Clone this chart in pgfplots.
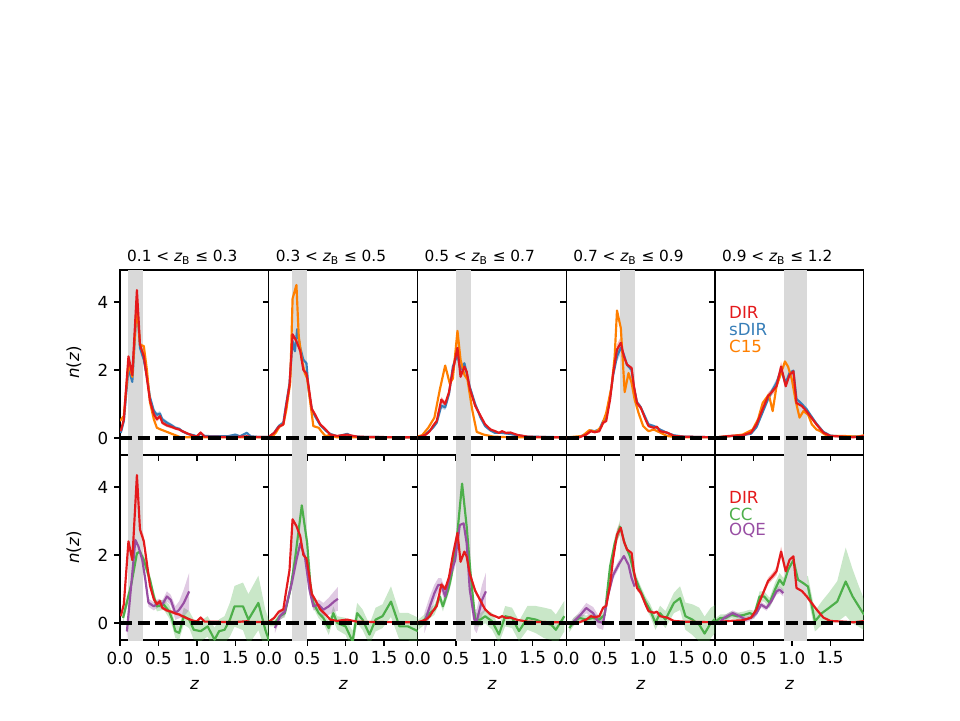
\documentclass[border=0pt]{standalone}
\usepackage{fontspec}
\setmainfont{DejaVu Sans}
\usepackage{pgfplots}
\pgfplotsset{compat=1.18}
\usepackage{pgfplotstable}
\usepgfplotslibrary{fillbetween}

\definecolor{cDIR}{HTML}{E41A1C}
\definecolor{cSDIR}{HTML}{377EB8}
\definecolor{cCC}{HTML}{4DAF4A}
\definecolor{cOQE}{HTML}{984EA3}
\definecolor{cC15}{HTML}{FF7F00}
\definecolor{binGray}{RGB}{217,217,217}

% ---------------- DIR ----------------
\pgfplotstableread{
z n e
0.01 0.20 0.05
0.05 0.55 0.08
0.11 2.40 0.25
0.16 1.85 0.20
0.22 4.35 0.45
0.26 2.75 0.25
0.31 2.40 0.15
0.35 1.75 0.12
0.39 1.10 0.10
0.44 0.70 0.08
0.48 0.55 0.07
0.52 0.64 0.07
0.55 0.45 0.06
0.61 0.37 0.05
0.68 0.32 0.05
0.72 0.28 0.04
0.77 0.25 0.04
0.81 0.20 0.04
0.88 0.13 0.03
0.96 0.06 0.03
1.00 0.05 0.02
1.05 0.16 0.04
1.10 0.04 0.02
1.20 0.04 0.02
1.35 0.03 0.02
1.50 0.03 0.02
1.65 0.05 0.02
1.70 0.03 0.02
1.95 0.03 0.02
}\dirA
\pgfplotstableread{
z n e
0.01 0.05 0.02
0.07 0.15 0.03
0.13 0.33 0.05
0.19 0.40 0.05
0.22 0.85 0.08
0.27 1.55 0.12
0.31 3.05 0.25
0.36 2.85 0.20
0.41 2.55 0.18
0.45 2.00 0.15
0.49 1.90 0.12
0.52 1.50 0.10
0.56 0.85 0.08
0.60 0.70 0.07
0.67 0.40 0.05
0.74 0.25 0.04
0.80 0.10 0.03
0.89 0.06 0.02
0.95 0.08 0.02
1.02 0.10 0.03
1.08 0.07 0.02
1.15 0.04 0.02
1.30 0.03 0.02
1.95 0.02 0.02
}\dirB
\pgfplotstableread{
z n e
0.01 0.03 0.02
0.06 0.06 0.02
0.11 0.10 0.02
0.16 0.20 0.03
0.20 0.35 0.04
0.25 0.50 0.05
0.31 1.13 0.08
0.36 1.00 0.08
0.41 1.35 0.10
0.46 2.00 0.12
0.52 2.65 0.18
0.56 1.80 0.15
0.61 2.10 0.15
0.64 1.95 0.15
0.68 1.45 0.10
0.75 0.95 0.08
0.82 0.65 0.06
0.88 0.40 0.05
0.95 0.25 0.04
1.01 0.20 0.03
1.06 0.15 0.03
1.10 0.20 0.03
1.15 0.15 0.03
1.21 0.16 0.03
1.30 0.09 0.02
1.43 0.04 0.02
1.55 0.03 0.02
1.95 0.02 0.02
}\dirC
\pgfplotstableread{
z n e
0.02 0.01 0.01
0.17 0.02 0.01
0.26 0.10 0.02
0.32 0.20 0.03
0.37 0.17 0.03
0.43 0.20 0.03
0.48 0.45 0.05
0.52 0.50 0.05
0.57 1.13 0.08
0.61 1.90 0.12
0.66 2.60 0.15
0.71 2.80 0.18
0.75 2.40 0.15
0.79 2.16 0.14
0.85 2.06 0.14
0.88 1.52 0.10
0.92 1.03 0.08
0.97 0.89 0.07
1.03 0.55 0.05
1.07 0.35 0.04
1.14 0.30 0.04
1.18 0.33 0.04
1.22 0.20 0.03
1.31 0.16 0.03
1.40 0.06 0.02
1.53 0.04 0.02
1.95 0.02 0.02
}\dirD
\pgfplotstableread{
z n e
0.02 0.02 0.01
0.18 0.06 0.02
0.36 0.08 0.02
0.47 0.16 0.03
0.54 0.40 0.05
0.60 0.74 0.07
0.69 1.23 0.10
0.75 1.38 0.10
0.80 1.52 0.12
0.86 2.10 0.15
0.92 1.52 0.12
0.97 1.86 0.14
1.02 1.96 0.15
1.06 1.03 0.10
1.13 0.94 0.08
1.19 0.79 0.07
1.24 0.64 0.06
1.32 0.40 0.05
1.41 0.16 0.03
1.50 0.06 0.02
1.68 0.04 0.02
1.80 0.02 0.02
1.95 0.06 0.02
}\dirE

% ---------------- sDIR ----------------
\pgfplotstableread{
z n e
0.01 0.15 0.05
0.05 0.50 0.08
0.11 2.05 0.20
0.16 1.65 0.18
0.22 4.00 0.35
0.26 2.65 0.20
0.31 2.30 0.15
0.35 1.80 0.12
0.39 1.20 0.10
0.44 0.80 0.08
0.48 0.68 0.07
0.52 0.72 0.07
0.55 0.55 0.06
0.61 0.45 0.06
0.68 0.36 0.05
0.72 0.30 0.05
0.77 0.27 0.04
0.81 0.20 0.04
0.88 0.12 0.03
0.96 0.08 0.03
1.00 0.05 0.02
1.05 0.13 0.04
1.10 0.06 0.02
1.25 0.05 0.02
1.40 0.05 0.02
1.50 0.10 0.03
1.56 0.05 0.02
1.65 0.15 0.04
1.70 0.05 0.02
1.80 0.03 0.02
1.95 0.03 0.02
}\sdirA
\pgfplotstableread{
z n e
0.01 0.05 0.02
0.07 0.15 0.03
0.13 0.35 0.05
0.19 0.45 0.05
0.22 0.90 0.08
0.27 1.60 0.12
0.31 2.85 0.20
0.34 2.55 0.18
0.37 3.20 0.22
0.41 2.65 0.18
0.45 2.30 0.15
0.49 2.20 0.12
0.52 1.40 0.10
0.56 0.85 0.08
0.60 0.65 0.07
0.67 0.38 0.05
0.74 0.22 0.04
0.80 0.12 0.03
0.89 0.05 0.02
0.95 0.08 0.02
1.02 0.12 0.03
1.08 0.06 0.02
1.20 0.03 0.02
1.95 0.02 0.02
}\sdirB
\pgfplotstableread{
z n e
0.01 0.03 0.02
0.11 0.12 0.02
0.16 0.22 0.03
0.20 0.30 0.04
0.25 0.45 0.05
0.31 0.95 0.08
0.36 0.90 0.08
0.41 1.30 0.10
0.46 2.10 0.12
0.52 2.45 0.18
0.56 2.00 0.15
0.61 2.20 0.15
0.64 1.90 0.15
0.68 1.50 0.10
0.75 1.00 0.08
0.82 0.60 0.06
0.88 0.35 0.05
0.95 0.22 0.04
1.01 0.15 0.03
1.10 0.15 0.03
1.20 0.12 0.03
1.30 0.08 0.02
1.43 0.04 0.02
1.95 0.02 0.02
}\sdirC
\pgfplotstableread{
z n e
0.02 0.01 0.01
0.17 0.03 0.01
0.26 0.12 0.02
0.32 0.22 0.03
0.37 0.20 0.03
0.43 0.25 0.03
0.48 0.50 0.05
0.52 0.60 0.05
0.57 1.20 0.08
0.61 1.85 0.12
0.66 2.40 0.15
0.71 2.65 0.18
0.75 2.45 0.15
0.79 2.15 0.14
0.85 2.00 0.14
0.88 1.50 0.10
0.92 1.05 0.08
0.97 0.90 0.07
1.03 0.60 0.05
1.07 0.40 0.04
1.14 0.35 0.04
1.18 0.30 0.04
1.22 0.25 0.03
1.31 0.15 0.03
1.40 0.08 0.02
1.53 0.04 0.02
1.95 0.02 0.02
}\sdirD
\pgfplotstableread{
z n e
0.02 0.02 0.01
0.18 0.05 0.02
0.36 0.08 0.02
0.47 0.13 0.03
0.54 0.32 0.04
0.60 0.65 0.06
0.69 1.15 0.10
0.75 1.42 0.10
0.80 1.62 0.12
0.86 2.00 0.14
0.92 1.62 0.12
0.97 1.92 0.14
1.02 1.98 0.14
1.06 1.15 0.10
1.13 1.00 0.08
1.19 0.85 0.07
1.24 0.68 0.06
1.32 0.42 0.05
1.41 0.18 0.03
1.50 0.07 0.02
1.68 0.04 0.02
1.95 0.05 0.02
}\sdirE

% ---------------- C15 ----------------
\pgfplotstableread{
z n
0.00 0.50
0.05 0.65
0.11 2.20
0.16 1.80
0.22 3.95
0.26 2.75
0.31 2.70
0.35 2.00
0.39 1.05
0.44 0.55
0.48 0.30
0.53 0.25
0.61 0.18
0.70 0.10
0.79 0.02
1.95 0.02
}\cfA
\pgfplotstableread{
z n
0.01 0.01
0.05 0.05
0.09 0.15
0.145 0.35
0.19 0.40
0.23 0.85
0.28 1.65
0.31 4.10
0.36 4.50
0.39 3.00
0.43 2.30
0.47 1.90
0.50 1.75
0.54 1.05
0.58 0.35
0.65 0.30
0.69 0.18
0.74 0.05
0.80 0.10
0.88 0.02
1.95 0.02
}\cfB
\pgfplotstableread{
z n
0.01 0.05
0.06 0.08
0.14 0.30
0.22 0.60
0.29 1.42
0.36 2.13
0.42 1.60
0.46 1.75
0.52 3.15
0.56 2.30
0.61 1.86
0.65 1.72
0.71 0.85
0.77 0.18
0.86 0.10
0.99 0.04
1.20 0.02
1.95 0.02
}\cfC
\pgfplotstableread{
z n
0.02 0.02
0.21 0.06
0.30 0.23
0.39 0.18
0.46 0.35
0.52 0.74
0.59 1.52
0.63 2.40
0.66 3.75
0.71 3.23
0.76 1.35
0.81 1.91
0.85 1.62
0.89 1.13
0.94 0.74
1.00 0.35
1.07 0.20
1.14 0.25
1.22 0.16
1.31 0.06
1.44 0.02
1.95 0.02
}\cfD
\pgfplotstableread{
z n
0.02 0.02
0.22 0.06
0.36 0.10
0.49 0.25
0.56 0.55
0.62 1.03
0.70 1.28
0.75 0.79
0.80 1.52
0.86 1.91
0.91 2.25
0.95 2.10
1.00 1.72
1.05 1.08
1.10 0.60
1.15 0.79
1.21 0.69
1.26 0.40
1.32 0.25
1.37 0.20
1.43 0.10
1.50 0.06
1.67 0.06
1.85 0.04
1.94 0.08
}\cfE

% ---------------- CC ----------------
\pgfplotstableread{
z n e
0.04 0.15 0.15
0.15 1.17 0.20
0.22 2.05 0.15
0.26 2.10 0.15
0.31 1.85 0.15
0.39 1.27 0.15
0.44 0.78 0.15
0.48 0.49 0.15
0.57 0.54 0.15
0.64 0.34 0.20
0.68 0.10 0.20
0.72 -0.24 0.20
0.77 -0.29 0.20
0.83 0.20 0.25
0.90 0.10 0.25
0.96 -0.20 0.30
1.05 -0.24 0.30
1.14 -0.10 0.30
1.23 -0.49 0.35
1.29 -0.24 0.35
1.36 -0.20 0.40
1.43 0.10 0.50
1.49 0.49 0.60
1.60 0.49 0.70
1.67 0.10 0.75
1.80 0.59 0.80
1.89 -0.20 0.60
1.95 -0.60 0.60
}\ccA
\pgfplotstableread{
z n e
0.01 0.00 0.10
0.08 0.00 0.10
0.145 0.20 0.10
0.21 0.29 0.12
0.28 0.98 0.15
0.34 1.85 0.20
0.43 3.46 0.25
0.50 2.34 0.20
0.54 1.17 0.15
0.58 0.59 0.15
0.65 0.29 0.15
0.71 0.15 0.15
0.78 -0.15 0.20
0.84 0.29 0.20
0.89 0.00 0.20
1.00 -0.10 0.25
1.09 -0.54 0.30
1.15 0.29 0.30
1.22 0.10 0.30
1.31 -0.34 0.30
1.39 0.10 0.35
1.48 0.20 0.35
1.59 0.63 0.45
1.70 -0.10 0.40
1.81 -0.10 0.40
1.94 -0.24 0.40
}\ccB
\pgfplotstableread{
z n e
0.01 -0.05 0.15
0.09 0.10 0.15
0.16 0.29 0.15
0.22 0.39 0.15
0.29 0.78 0.15
0.33 0.49 0.15
0.40 0.98 0.15
0.44 1.37 0.20
0.51 2.44 0.25
0.58 4.10 0.30
0.64 2.83 0.25
0.69 1.46 0.20
0.75 0.10 0.20
0.82 0.10 0.20
0.88 0.20 0.20
0.97 0.05 0.25
1.06 -0.34 0.25
1.14 0.20 0.30
1.23 0.15 0.30
1.32 -0.24 0.30
1.43 0.15 0.35
1.54 0.10 0.40
1.65 0.00 0.45
1.74 -0.05 0.45
1.80 -0.20 0.45
1.91 0.20 0.45
}\ccC
\pgfplotstableread{
z n e
0.04 -0.15 0.12
0.10 0.05 0.12
0.17 0.15 0.12
0.26 0.10 0.12
0.35 0.15 0.12
0.43 0.10 0.12
0.50 0.24 0.12
0.57 1.66 0.15
0.63 2.34 0.18
0.70 2.83 0.20
0.76 2.34 0.18
0.83 1.95 0.18
0.89 1.37 0.15
0.96 0.98 0.15
1.03 0.63 0.15
1.09 0.39 0.18
1.16 0.00 0.20
1.22 0.29 0.22
1.29 0.10 0.25
1.40 0.59 0.30
1.48 0.73 0.35
1.55 0.20 0.40
1.64 0.10 0.45
1.73 -0.05 0.50
1.80 -0.31 0.50
1.88 0.00 0.45
1.95 0.15 0.40
}\ccD
\pgfplotstableread{
z n e
0.01 0.05 0.10
0.07 0.15 0.10
0.14 0.15 0.10
0.21 0.24 0.10
0.29 0.20 0.10
0.38 0.24 0.10
0.45 0.29 0.10
0.51 0.24 0.12
0.58 0.78 0.15
0.64 0.78 0.15
0.71 0.59 0.15
0.78 0.98 0.20
0.84 1.27 0.20
0.89 1.12 0.20
0.95 1.56 0.25
1.02 1.85 0.30
1.08 1.27 0.30
1.15 1.17 0.30
1.21 1.07 0.30
1.30 0.05 0.30
1.39 0.29 0.35
1.48 0.44 0.45
1.59 0.63 0.60
1.70 1.22 1.00
1.79 0.78 0.80
1.87 0.49 0.60
1.94 0.24 0.45
}\ccE

% ---------------- OQE ----------------
\pgfplotstableread{
z n e
0.09 -0.25 0.30
0.20 2.44 0.20
0.24 2.25 0.20
0.29 1.85 0.15
0.33 1.27 0.15
0.37 0.60 0.12
0.44 0.49 0.12
0.50 0.59 0.12
0.55 0.54 0.12
0.61 0.78 0.15
0.66 0.68 0.15
0.72 0.29 0.20
0.77 0.39 0.25
0.83 0.59 0.40
0.90 0.93 0.55
}\oqA
\pgfplotstableread{
z n e
0.08 -0.15 0.15
0.145 0.20 0.12
0.21 0.34 0.12
0.30 1.17 0.15
0.36 1.85 0.15
0.41 2.34 0.18
0.47 1.95 0.18
0.53 0.98 0.15
0.58 0.49 0.12
0.65 0.54 0.15
0.71 0.39 0.20
0.78 0.49 0.25
0.85 0.63 0.30
0.90 0.71 0.35
}\oqB
\pgfplotstableread{
z n e
0.09 0.00 0.30
0.16 0.49 0.30
0.22 0.88 0.25
0.27 1.12 0.20
0.31 1.12 0.20
0.36 0.78 0.20
0.42 1.37 0.20
0.49 1.85 0.20
0.55 2.88 0.20
0.60 2.93 0.20
0.64 2.34 0.20
0.68 0.98 0.25
0.74 0.10 0.30
0.77 0.05 0.35
0.84 0.68 0.45
0.89 0.93 0.55
}\oqC
\pgfplotstableread{
z n e
0.08 0.00 0.10
0.17 0.20 0.12
0.26 0.44 0.15
0.35 0.29 0.18
0.41 0.05 0.20
0.48 0.00 0.20
0.54 0.78 0.12
0.61 1.41 0.12
0.68 1.71 0.12
0.75 1.97 0.12
0.81 1.71 0.12
0.85 1.32 0.12
0.89 1.07 0.12
}\oqD
\pgfplotstableread{
z n e
0.05 0.00 0.08
0.12 0.15 0.08
0.23 0.29 0.08
0.32 0.20 0.08
0.40 0.10 0.08
0.47 0.15 0.08
0.54 0.29 0.08
0.60 0.54 0.08
0.67 0.44 0.08
0.73 0.63 0.08
0.80 0.93 0.10
0.84 0.98 0.10
0.89 0.88 0.10
}\oqE

\pgfplotsset{
  panel/.style={
    scale only axis, width=89.25pt, height=111pt,
    xmin=0, xmax=1.935, ymin=-0.5, ymax=4.94,
    xtick={0,0.5,1,1.5}, ytick={0,2,4},
    tick align=outside, tick pos=left,
    major tick length=3.5pt,
    every tick/.style={black, line width=0.8pt},
    axis line style={line width=0.8pt},
    /pgf/number format/assume math mode=true,
    xticklabel style={/pgf/number format/fixed, /pgf/number format/fixed zerofill, /pgf/number format/precision=1},
    yticklabel style={/pgf/number format/fixed, /pgf/number format/precision=0},
    tick label style={font=\fontsize{10}{12}\selectfont},
    label style={font=\fontsize{10}{12}\selectfont},
    xlabel style={yshift=-3pt},
    ylabel style={yshift=3pt},
    title style={font=\fontsize{9.2}{11}\selectfont, at={(0.046,1)}, anchor=base west,
      inner sep=0pt, yshift=-1pt},
    no markers,
  },
  toprow/.style={panel, xticklabels={}},
  botrow/.style={panel, xlabel={\itshape z}},
  inner/.style={yticklabels={}},
}

% shaded photometric-redshift bin
\newcommand{\zbin}[2]{\addplot[fill=binGray, draw=none] coordinates {(#1,-1) (#2,-1) (#2,6) (#1,6)};}
% uncertainty band: table, unique name, colour
\newcommand{\zband}[3]{%
  \addplot[draw=none, name path=#2u] table[x=z, y expr=\thisrow{n}+\thisrow{e}] {#1};
  \addplot[draw=none, name path=#2l] table[x=z, y expr=\thisrow{n}-\thisrow{e}] {#1};
  \addplot[fill=#3, fill opacity=0.3, draw=none] fill between[of=#2u and #2l];
}
\newcommand{\zline}[2]{\addplot[#2, line width=1.3pt, line join=round] table[x=z, y=n] {#1};}
\newcommand{\zzero}{\addplot[black, line width=2pt, dash pattern=on 7.4pt off 3.2pt] coordinates {(0,0) (1.935,0)};}

\begin{document}
\begin{tikzpicture}
% page frame
\path (0,0) rectangle (576pt,432pt);

% ---------- top row: DIR, sDIR, C15 ----------
\begin{axis}[toprow, at={(72pt,159pt)}, anchor=south west,
  ylabel={{\itshape n}({\itshape z})},
  title={0.1 < {\itshape z}\textsubscript{B} ≤ 0.3}]
  \zbin{0.1}{0.3}
  \zband{\sdirA}{sa}{cSDIR}
  \zband{\dirA}{da}{cDIR}
  \zline{\sdirA}{cSDIR}
  \zline{\cfA}{cC15}
  \zline{\dirA}{cDIR}
  \zzero
\end{axis}
\begin{axis}[toprow, inner, at={(161.25pt,159pt)}, anchor=south west,
  title={0.3 < {\itshape z}\textsubscript{B} ≤ 0.5}]
  \zbin{0.3}{0.5}
  \zband{\sdirB}{sb}{cSDIR}
  \zband{\dirB}{db}{cDIR}
  \zline{\sdirB}{cSDIR}
  \zline{\cfB}{cC15}
  \zline{\dirB}{cDIR}
  \zzero
\end{axis}
\begin{axis}[toprow, inner, at={(250.5pt,159pt)}, anchor=south west,
  title={0.5 < {\itshape z}\textsubscript{B} ≤ 0.7}]
  \zbin{0.5}{0.7}
  \zband{\sdirC}{sc}{cSDIR}
  \zband{\dirC}{dc}{cDIR}
  \zline{\sdirC}{cSDIR}
  \zline{\cfC}{cC15}
  \zline{\dirC}{cDIR}
  \zzero
\end{axis}
\begin{axis}[toprow, inner, at={(339.75pt,159pt)}, anchor=south west,
  title={0.7 < {\itshape z}\textsubscript{B} ≤ 0.9}]
  \zbin{0.7}{0.9}
  \zband{\sdirD}{sd}{cSDIR}
  \zband{\dirD}{dd}{cDIR}
  \zline{\sdirD}{cSDIR}
  \zline{\cfD}{cC15}
  \zline{\dirD}{cDIR}
  \zzero
\end{axis}
\begin{axis}[toprow, inner, at={(429pt,159pt)}, anchor=south west,
  title={0.9 < {\itshape z}\textsubscript{B} ≤ 1.2}]
  \zbin{0.9}{1.2}
  \zband{\sdirE}{se}{cSDIR}
  \zband{\dirE}{de}{cDIR}
  \zline{\sdirE}{cSDIR}
  \zline{\cfE}{cC15}
  \zline{\dirE}{cDIR}
  \zzero
  \node[anchor=west, inner sep=0pt, text=cDIR, font=\fontsize{10}{12}\selectfont] at (axis cs:0.18,3.68) {DIR};
  \node[anchor=west, inner sep=0pt, text=cSDIR, font=\fontsize{10}{12}\selectfont] at (axis cs:0.18,3.18) {sDIR};
  \node[anchor=west, inner sep=0pt, text=cC15, font=\fontsize{10}{12}\selectfont] at (axis cs:0.18,2.68) {C15};
\end{axis}

% ---------- bottom row: DIR, CC, OQE ----------
\begin{axis}[botrow, at={(72pt,48pt)}, anchor=south west,
  ylabel={{\itshape n}({\itshape z})}]
  \zbin{0.1}{0.3}
  \zband{\ccA}{ca}{cCC}
  \zband{\oqA}{oa}{cOQE}
  \zband{\dirA}{ra}{cDIR}
  \zline{\ccA}{cCC}
  \zline{\oqA}{cOQE}
  \zline{\dirA}{cDIR}
  \zzero
\end{axis}
\begin{axis}[botrow, inner, at={(161.25pt,48pt)}, anchor=south west]
  \zbin{0.3}{0.5}
  \zband{\ccB}{cb}{cCC}
  \zband{\oqB}{ob}{cOQE}
  \zband{\dirB}{rb}{cDIR}
  \zline{\ccB}{cCC}
  \zline{\oqB}{cOQE}
  \zline{\dirB}{cDIR}
  \zzero
\end{axis}
\begin{axis}[botrow, inner, at={(250.5pt,48pt)}, anchor=south west]
  \zbin{0.5}{0.7}
  \zband{\ccC}{cc}{cCC}
  \zband{\oqC}{oc}{cOQE}
  \zband{\dirC}{rc}{cDIR}
  \zline{\ccC}{cCC}
  \zline{\oqC}{cOQE}
  \zline{\dirC}{cDIR}
  \zzero
\end{axis}
\begin{axis}[botrow, inner, at={(339.75pt,48pt)}, anchor=south west]
  \zbin{0.7}{0.9}
  \zband{\ccD}{cd}{cCC}
  \zband{\oqD}{od}{cOQE}
  \zband{\dirD}{rd}{cDIR}
  \zline{\ccD}{cCC}
  \zline{\oqD}{cOQE}
  \zline{\dirD}{cDIR}
  \zzero
\end{axis}
\begin{axis}[botrow, inner, at={(429pt,48pt)}, anchor=south west]
  \zbin{0.9}{1.2}
  \zband{\ccE}{ce}{cCC}
  \zband{\oqE}{oe}{cOQE}
  \zband{\dirE}{re}{cDIR}
  \zline{\ccE}{cCC}
  \zline{\oqE}{cOQE}
  \zline{\dirE}{cDIR}
  \zzero
  \node[anchor=west, inner sep=0pt, text=cDIR, font=\fontsize{10}{12}\selectfont] at (axis cs:0.18,3.70) {DIR};
  \node[anchor=west, inner sep=0pt, text=cCC, font=\fontsize{10}{12}\selectfont] at (axis cs:0.18,3.20) {CC};
  \node[anchor=west, inner sep=0pt, text=cOQE, font=\fontsize{10}{12}\selectfont] at (axis cs:0.18,2.72) {OQE};
\end{axis}
\end{tikzpicture}
\end{document}
